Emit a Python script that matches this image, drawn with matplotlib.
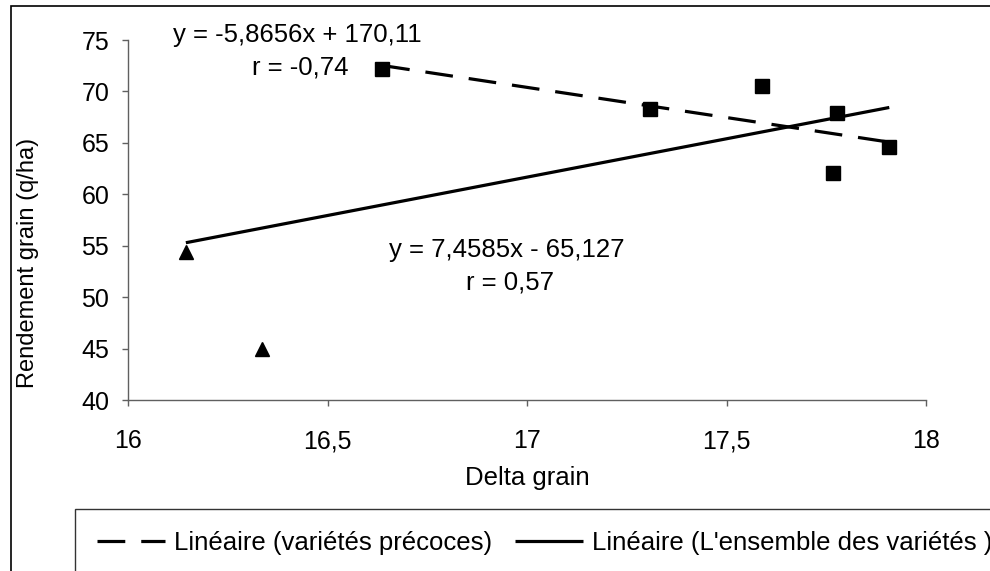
import matplotlib
matplotlib.use("Agg")
import matplotlib.pyplot as plt
import numpy as np
from matplotlib.patches import Rectangle

plt.rcParams['font.family'] = ['Liberation Sans', 'DejaVu Sans']
plt.rcParams['lines.scale_dashes'] = False

# Data
early_x = [16.637, 17.308, 17.59, 17.766, 17.776, 17.908]
early_y = [72.18, 68.27, 70.56, 62.04, 67.88, 64.57]
late_x = [16.145, 16.336]
late_y = [54.43, 45.0]

# Trend line coefficients (slope, intercept) as written on the chart
early_fit = [-5.8656, 170.11]
all_fit = [7.4585, -65.127]

eq_early = "y = -5,8656x + 170,11"
r_early = "r = -0,74"
eq_all = "y = 7,4585x - 65,127"
r_all = "r = 0,57"

xticks = [16, 16.5, 17, 17.5, 18]
xticklabels = ["16", "16,5", "17", "17,5", "18"]
yticks = [40, 45, 50, 55, 60, 65, 70, 75]

legend_labels = ["Linéaire (variétés précoces)", "Linéaire (L'ensemble des variétés )"]

FS = 18.5
FS_TICK = 18
FS_V = 17
W, H = 990, 571
fig = plt.figure(figsize=(W / 100, H / 100), dpi=100)
ax = fig.add_axes([128 / W, 1 - 400 / H, (926 - 128) / W, (400 - 40) / H])

all_x = early_x + late_x
xe = np.array([min(early_x), max(early_x)])
xa = np.array([min(all_x), max(all_x)])

l1, = ax.plot(xe, early_fit[0] * xe + early_fit[1], color='black', lw=2.3,
              dashes=(20, 11.5), dash_capstyle='butt', zorder=3)
l2, = ax.plot(xa, all_fit[0] * xa + all_fit[1], color='black', lw=2.3,
              solid_capstyle='butt', zorder=3)

ax.plot(early_x, early_y, linestyle='none', marker='D', markersize=6.9,
        color='#000080', zorder=4)
ax.plot(early_x, early_y, linestyle='none', marker='s', markersize=9.5,
        color='black', zorder=5)
ax.plot(late_x, late_y, linestyle='none', marker='^', markersize=10,
        color='black', zorder=5)

ax.set_xlim(16, 18)
ax.set_ylim(40, 75)
ax.set_xticks(xticks)
ax.set_xticklabels(xticklabels)
ax.set_yticks(yticks)

for s in ['top', 'right']:
    ax.spines[s].set_visible(False)
for s in ['left', 'bottom']:
    ax.spines[s].set_color('#606060')
    ax.spines[s].set_linewidth(1.0)

ax.tick_params(axis='x', direction='out', length=4.5, width=1.0, color='#606060',
               labelsize=FS_TICK, pad=16.5)
ax.tick_params(axis='y', direction='out', length=4.5, width=1.0, color='#606060',
               labelsize=FS_TICK, pad=9)

fig.text(527 / W, 1 - 478 / H, "Delta grain", fontsize=FS, ha='center', va='center')
fig.text(28 / W, 1 - 263 / H, "Rendement grain (q/ha)", fontsize=FS_V,
         ha='center', va='center', rotation=90)

ax.text(16.424, 75.45, eq_early, fontsize=FS, ha='center', va='center')
ax.text(16.431, 72.35, r_early, fontsize=FS, ha='center', va='center')
ax.text(16.95, 54.6, eq_all, fontsize=FS, ha='center', va='center')
ax.text(16.957, 51.4, r_all, fontsize=FS, ha='center', va='center')

# outer chart frame (extends beyond the image on the right/bottom)
fig.patches.append(Rectangle((11 / W, -0.2), 1.2, 1.2 - 6 / H,
                             transform=fig.transFigure, fill=False,
                             edgecolor='black', lw=1.2))

leg = fig.legend([l1, l2], legend_labels, loc='upper left',
                 bbox_to_anchor=(75 / W, 1 - 509 / H), bbox_transform=fig.transFigure,
                 ncol=2, fontsize=FS, frameon=True, fancybox=False,
                 edgecolor='black', borderpad=0.85, handlelength=2.65,
                 handletextpad=0.35, columnspacing=0.9, borderaxespad=0)
leg.get_frame().set_linewidth(1.0)

fig.savefig("out.png", dpi=100)
